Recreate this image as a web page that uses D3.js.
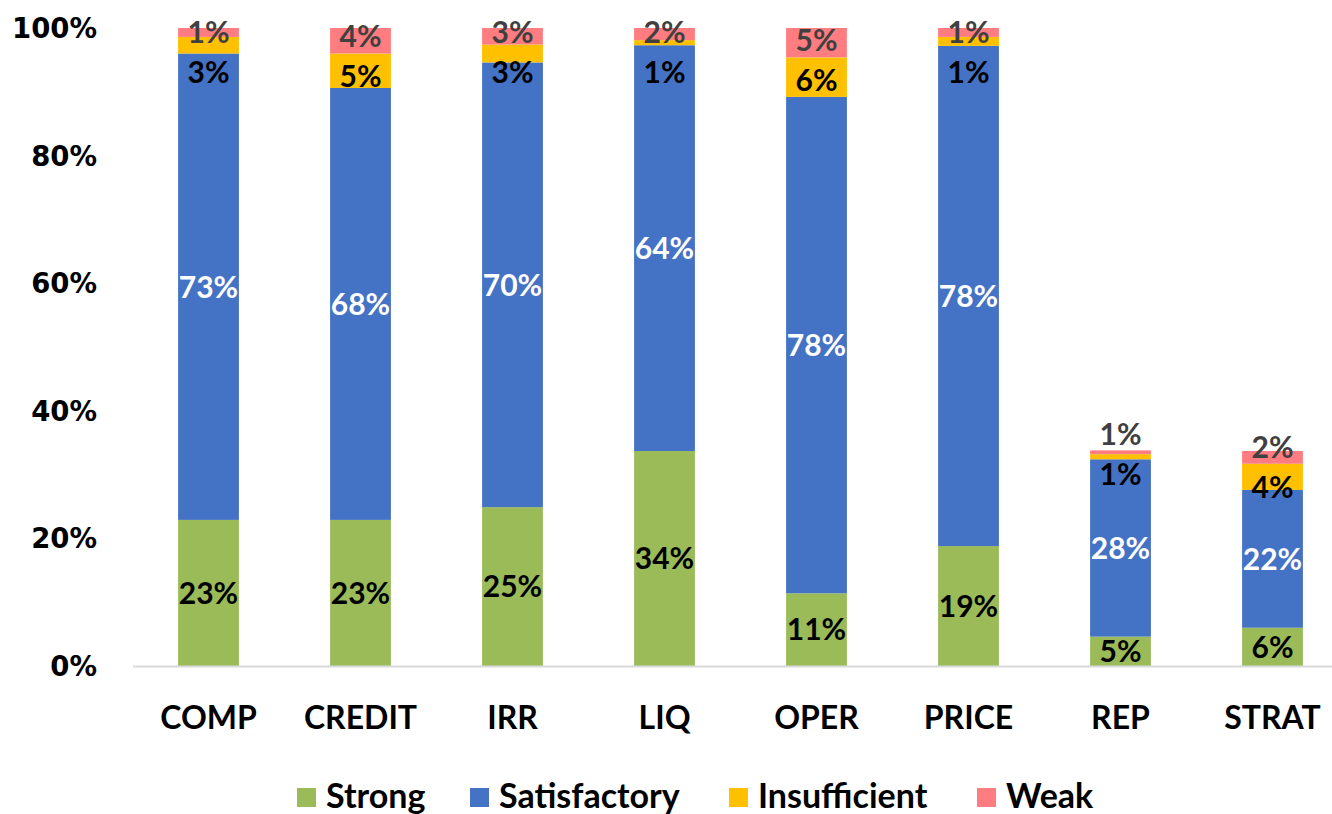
<!DOCTYPE html>
<html>
<head>
<meta charset="utf-8">
<script src="https://cdn.jsdelivr.net/npm/d3@7"></script>
<style>
  html, body { margin: 0; padding: 0; background: #fff; }
  svg { display: block; }
  text { font-family: Lato, "Open Sans", sans-serif; font-weight: bold; }
</style>
</head>
<body>
<svg id="chart" width="1332" height="814"></svg>
<script>
const categories = ["COMP", "CREDIT", "IRR", "LIQ", "OPER", "PRICE", "REP", "STRAT"];
const seriesNames = ["Strong", "Satisfactory", "Insufficient", "Weak"];
const strong       = [22.9, 22.9, 24.9, 33.7, 11.4, 18.8, 4.6, 6.0];
const satisfactory = [73.1, 67.7, 69.7, 63.6, 77.8, 78.4, 27.8, 21.6];
const insufficient = [2.6, 5.4, 2.8, 0.8, 6.2, 1.4, 0.8, 4.1];
const weak         = [1.4, 4.0, 2.6, 1.9, 4.6, 1.4, 0.6, 2.0];
const yTicks = [0, 20, 40, 60, 80, 100];
const colors = ["#9BBB59", "#4472C4", "#FFC000", "#FF7C80"];
const labelColors = ["#000000", "#FFFFFF", "#000000", "#404040"];

const seriesValues = [strong, satisfactory, insufficient, weak];
const rows = categories.map((c, i) => {
  const r = { cat: c };
  seriesNames.forEach((s, k) => r[s] = seriesValues[k][i]);
  return r;
});
const stacked = d3.stack().keys(seriesNames)(rows);

const svg = d3.select("#chart");
const x = d3.scaleBand().domain(categories).range([132.5, 1348.5]).paddingInner(0.6).paddingOuter(0.3);
const y = d3.scaleLinear().domain([0, 100]).range([666, 28]);

// y tick labels
svg.append("g").selectAll("text").data(yTicks).join("text")
  .attr("x", 97)
  .attr("y", d => y(d))
  .attr("dy", "0.36em")
  .attr("text-anchor", "end")
  .style("font-family", "'DejaVu Sans', sans-serif")
  .style("font-size", "27.5px")
  .text(d => d + "%");

// bars
const layers = svg.append("g").selectAll("g").data(stacked).join("g")
  .attr("fill", (d, i) => colors[i]);
layers.selectAll("rect").data(d => d).join("rect")
  .attr("x", d => x(d.data.cat))
  .attr("width", x.bandwidth())
  .attr("y", d => y(d[1]))
  .attr("height", d => y(d[0]) - y(d[1]));

// axis line
svg.append("line")
  .attr("x1", 133).attr("x2", 1332)
  .attr("y1", y(0) + 0.5).attr("y2", y(0) + 0.5)
  .attr("stroke", "#D9D9D9").attr("stroke-width", 2);

// x labels
svg.append("g").selectAll("text").data(categories).join("text")
  .attr("x", d => x(d) + x.bandwidth() / 2)
  .attr("y", 729)
  .attr("text-anchor", "middle")
  .style("font-size", "32px")
  .text(d => d);

// data labels with simple overlap avoidance for the top two segments
const fs = 30, gap = 40, topLimit = 32;
const labelG = svg.append("g");
categories.forEach((c, i) => {
  const centers = stacked.map(s => (y(s[i][0]) + y(s[i][1])) / 2);
  let yIns = centers[2], yWeak = centers[3];
  if (yIns - yWeak < gap) {
    const mid = (yIns + yWeak) / 2;
    yWeak = mid - gap / 2;
    yIns = mid + gap / 2;
    if (yWeak < topLimit) { yIns += topLimit - yWeak; yWeak = topLimit; }
  }
  const ys = [centers[0], centers[1], yIns, yWeak];
  seriesNames.forEach((s, k) => {
    labelG.append("text")
      .attr("x", x(c) + x.bandwidth() / 2)
      .attr("y", ys[k])
      .attr("dy", "0.36em")
      .attr("text-anchor", "middle")
      .attr("fill", labelColors[k])
      .style("font-size", fs + "px")
      .text(Math.round(seriesValues[k][i]) + "%");
  });
});

// legend
const legendX = [297, 470, 729, 977];
const lg = svg.append("g").selectAll("g").data(seriesNames).join("g")
  .attr("transform", (d, i) => `translate(${legendX[i]},788)`);
lg.append("rect").attr("width", 19).attr("height", 19).attr("fill", (d, i) => colors[i]);
lg.append("text").attr("x", 29).attr("y", 20).style("font-size", "34px").text(d => d);
</script>
</body>
</html>
